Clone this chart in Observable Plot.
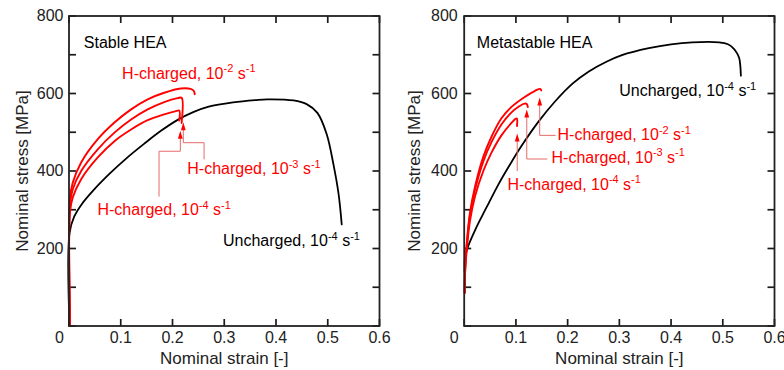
<!DOCTYPE html>
<html><head><meta charset="utf-8">
<script src="https://cdn.jsdelivr.net/npm/d3@7"></script>
<script src="https://cdn.jsdelivr.net/npm/@observablehq/plot@0.6"></script>
<style>
body{margin:0;background:#fff;}
#wrap{display:flex;width:784px;height:370px;overflow:hidden;}
</style></head><body><div id="wrap"></div>
<script>
// ---- tick values ----
const xTicks = [0, 0.1, 0.2, 0.3, 0.4, 0.5, 0.6];
const xTickLabels = [0.1, 0.2, 0.3, 0.4, 0.5, 0.6];
const yTicks = [0, 100, 200, 300, 400, 500, 600, 700, 800];
const yTickLabels = [200, 400, 600, 800];

// ---- Stable HEA (left) : [strain, stress MPa] ----
const stableUncharged = [[0.001,0],[0.001,240],[0.01,282],[0.025,315],[0.047,350],[0.08,395],[0.112,434],[0.145,470],[0.177,503],[0.21,532],[0.24,552],[0.27,566],[0.317,577],[0.36,583],[0.383,585],[0.434,582],[0.46,572],[0.48,550],[0.498,495],[0.511,417],[0.521,340],[0.527,262]];
const stableH2 = [[0.002,0],[0.002,330],[0.0073,370],[0.0235,422],[0.0556,482],[0.0878,525],[0.12,559],[0.152,585],[0.184,602],[0.216,613],[0.235,612],[0.241,607],[0.243,598]];
const stableH3 = [[0.002,0],[0.002,315],[0.0073,353],[0.0235,400],[0.0556,456],[0.0878,499],[0.12,533],[0.152,559],[0.184,578],[0.21,588],[0.2176,589],[0.2176,524]];
const stableH4 = [[0.002,0],[0.002,295],[0.0073,332],[0.0235,379],[0.0556,435],[0.0878,477],[0.12,507],[0.152,531],[0.184,546],[0.205,554],[0.213,556],[0.213,530]];
// arrows (base point) and leader lines
const stableArrows = [[0.2151,483],[0.2209,505]];
const stableLeaders = [
  [[0.2151,483],[0.2151,451],[0.174,451],[0.174,335]],
  [[0.2209,505],[0.2209,473],[0.261,473],[0.261,431]]
];
const stableLabels = [
  {x:0.0286, y:731, text:"Stable HEA", red:false},
  {x:0.1026, y:651, text:"H-charged, 10^{-2} s^{-1}", red:true},
  {x:0.2286, y:405, text:"H-charged, 10^{-3} s^{-1}", red:true},
  {x:0.055, y:299, text:"H-charged, 10^{-4} s^{-1}", red:true},
  {x:0.2975, y:219, text:"Uncharged, 10^{-4} s^{-1}", red:false}
];

// ---- Metastable HEA (right) ----
const metaUncharged = [[0.001,140],[0.002,180],[0.008,207],[0.022,250],[0.035,285],[0.047,316],[0.066,365],[0.09,420],[0.111,465],[0.144,528],[0.176,580],[0.21,626],[0.241,657],[0.275,682],[0.305,699],[0.357,717],[0.4,727],[0.441,732],[0.493,732],[0.51,727],[0.521,716],[0.528,703],[0.532,690],[0.534,670],[0.535,646]];
const metaH2 = [[0.001,86],[0.002,154],[0.0045,206],[0.011,291],[0.021,360],[0.037,437],[0.053,489],[0.072,536],[0.092,566],[0.117,591],[0.137,607],[0.147,612],[0.149,608]];
const metaH3 = [[0.001,86],[0.002,150],[0.0045,200],[0.011,285],[0.021,352],[0.037,425],[0.053,475],[0.072,520],[0.092,552],[0.105,566],[0.117,574],[0.121,573],[0.123,565]];
const metaH4 = [[0.001,86],[0.002,145],[0.0045,190],[0.011,270],[0.021,335],[0.037,400],[0.053,448],[0.072,492],[0.09,522],[0.1,535],[0.102,535],[0.102,516]];
const metaArrows = [[0.146,569],[0.121,538],[0.1025,476]];
const metaLeaders = [
  [[0.146,569],[0.146,492],[0.176,492]],
  [[0.121,538],[0.121,431],[0.16,431]],
  [[0.1025,476],[0.1025,401]]
];
const metaLabels = [
  {x:0.0244, y:730, text:"Metastable HEA", red:false},
  {x:0.2997, y:606, text:"Uncharged, 10^{-4} s^{-1}", red:false},
  {x:0.1804, y:492, text:"H-charged, 10^{-2} s^{-1}", red:true},
  {x:0.1688, y:435, text:"H-charged, 10^{-3} s^{-1}", red:true},
  {x:0.0837, y:365, text:"H-charged, 10^{-4} s^{-1}", red:true}
];

const FONT = "'Liberation Sans', Arial, Helvetica, sans-serif";
const RED = "#ff0000";
const AX = "#222";
const W = 392, H = 370, MT = 15.5, MB = 44.5, TICK = 7;
const XMAX = 0.6, YMAX = 800;

function toRows(arr){ return arr.map(([x,y]) => ({x, y})); }
function leaderRows(list){ return list.flatMap((pts,i) => pts.map(([x,y]) => ({x, y, id:i}))); }
function tickSegs(pw, ph){
  const tx = XMAX * TICK / pw, ty = YMAX * TICK / ph;
  return [
    ...xTicks.map(v => ({x1:v, x2:v, y1:0, y2:ty})),
    ...xTicks.map(v => ({x1:v, x2:v, y1:YMAX - ty, y2:YMAX})),
    ...yTicks.map(v => ({x1:0, x2:tx, y1:v, y2:v})),
    ...yTicks.map(v => ({x1:XMAX - tx, x2:XMAX, y1:v, y2:v}))
  ];
}

function applySup(svg){
  svg.querySelectorAll("text").forEach(t => {
    const s = t.textContent;
    if (!s.includes("^{")) return;
    while (t.firstChild) t.removeChild(t.firstChild);
    const parts = s.split(/(\^\{[^}]*\})/);
    let raised = false;
    parts.forEach(p => {
      if (!p) return;
      const ts = document.createElementNS("http://www.w3.org/2000/svg", "tspan");
      if (p.startsWith("^{")) {
        ts.textContent = p.slice(2, -1);
        ts.setAttribute("font-size", "11");
        ts.setAttribute("dy", raised ? "0" : "-6.5");
        raised = true;
      } else {
        ts.textContent = p;
        if (raised) { ts.setAttribute("dy", "6.5"); raised = false; }
      }
      t.appendChild(ts);
    });
  });
}

function panel(cfg){
  const curve = "catmull-rom";
  const pw = W - cfg.ml - cfg.mr, ph = H - MT - MB;
  const svg = Plot.plot({
    width: W, height: H,
    marginLeft: cfg.ml, marginRight: cfg.mr, marginTop: MT, marginBottom: MB,
    x: {domain: [0, XMAX]},
    y: {domain: [0, YMAX]},
    style: {fontFamily: FONT, fontSize: "16px", color: AX, background: "white", overflow: "visible"},
    marks: [
      Plot.link(tickSegs(pw, ph), {x1:"x1", x2:"x2", y1:"y1", y2:"y2", stroke:"#1a1a1a", strokeWidth:1.7}),
      Plot.line(toRows(cfg.unch), {x:"x", y:"y", stroke:"black", strokeWidth:1.8, curve}),
      Plot.line(toRows(cfg.h2), {x:"x", y:"y", stroke:RED, strokeWidth:1.9, curve}),
      Plot.line(toRows(cfg.h3), {x:"x", y:"y", stroke:RED, strokeWidth:1.9, curve}),
      Plot.line(toRows(cfg.h4), {x:"x", y:"y", stroke:RED, strokeWidth:1.9, curve}),
      Plot.line(leaderRows(cfg.leaders), {x:"x", y:"y", z:"id", stroke:"#e56a6a", strokeWidth:1}),
      Plot.vector(toRows(cfg.arrows), {x:"x", y:"y", length:8, r:2.4, shape:"spike", anchor:"start", fill:RED, stroke:"none"}),
      Plot.text(cfg.labels, {x:"x", y:"y", text:"text", textAnchor:"start", lineAnchor:"middle", fontSize:16, fill: d => d.red ? RED : "black"}),
      Plot.frame({stroke:AX, strokeWidth:1.8}),
      Plot.axisX({ticks: xTickLabels, anchor:"bottom", tickSize:0, tickPadding:5.5, tickFormat: d => d.toFixed(1), label:null, fontSize:16}),
      Plot.axisY({ticks: yTickLabels, anchor:"left", tickSize:0, tickPadding:cfg.yPad, tickFormat: d => String(d), label:null, fontSize:16}),
      Plot.text(["0"], {frameAnchor:"bottom-left", dx:cfg.zeroDx, dy:11.5, lineAnchor:"middle", textAnchor:"middle", fontSize:16}),
      Plot.text(["Nominal strain [-]"], {frameAnchor:"bottom", dy:32.5, lineAnchor:"middle", textAnchor:"middle", fontSize:17, fill:AX}),
      Plot.text(["Nominal stress [MPa]"], {frameAnchor:"left", dx:cfg.ytDx, rotate:-90, lineAnchor:"middle", textAnchor:"middle", fontSize:17, fill:AX})
    ]
  });
  applySup(svg);
  return svg;
}

const wrap = document.getElementById("wrap");
wrap.appendChild(panel({ml:68.5, mr:13, unch:stableUncharged, h2:stableH2, h3:stableH3, h4:stableH4,
  arrows:stableArrows, leaders:stableLeaders, labels:stableLabels, yPad:5.5, zeroDx:-9.5, ytDx:-46.5}));
wrap.appendChild(panel({ml:71.7, mr:10, unch:metaUncharged, h2:metaH2, h3:metaH3, h4:metaH4,
  arrows:metaArrows, leaders:metaLeaders, labels:metaLabels, yPad:6.5, zeroDx:-10, ytDx:-50}));
</script>
</body></html>
